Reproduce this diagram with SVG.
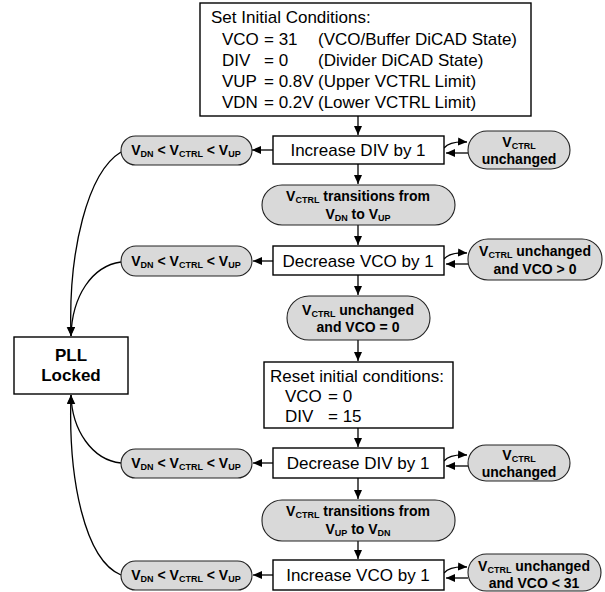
<svg xmlns="http://www.w3.org/2000/svg" width="605" height="592" viewBox="0 0 605 592">
  <defs>
    <marker id="arrow" markerWidth="10" markerHeight="9" refX="9" refY="4" orient="auto" markerUnits="userSpaceOnUse">
      <path d="M0,0 L9,4 L0,8 z" fill="#000"/>
    </marker>
    <style>
      .box { fill: #fff; stroke: #000; stroke-width: 1.4; }
      .term { fill: #d9d9d9; stroke: #222; stroke-width: 1.1; }
      .t { font-family: "Liberation Sans", Arial, sans-serif; font-size: 17px; fill: #000; }
      .b { font-family: "Liberation Sans", Arial, sans-serif; font-size: 14px; font-weight: bold; fill: #000; text-anchor: middle; }
      .s { font-size: 9px; }
      .c { text-anchor: middle; }
      .conn path { fill: none; stroke: #000; stroke-width: 1.3; }
      .conn .arr { marker-end: url(#arrow); }
    </style>
  </defs>
  <rect width="605" height="592" fill="#fff"/>

  <!-- connectors -->
  <g id="connectors" class="conn">
    <!-- main column -->
    <path class="arr" d="M358,116 V135"/>
    <path class="arr" d="M358,164 V184"/>
    <path class="arr" d="M358,225 V245"/>
    <path class="arr" d="M358,275 V295"/>
    <path class="arr" d="M358,340 V361"/>
    <path class="arr" d="M358,428 V447"/>
    <path class="arr" d="M358,478 V499"/>
    <path class="arr" d="M358,541 V559"/>
    <!-- exits to the lock condition -->
    <path class="arr" d="M273,150 H252"/>
    <path class="arr" d="M273,261 H253"/>
    <path class="arr" d="M273,463 H253"/>
    <path class="arr" d="M273,575 H253"/>
    <!-- self loops -->
    <path class="arr" d="M444,148 Q450,141 467,142"/>
    <path class="arr" d="M468,153 L446,153"/>
    <path class="arr" d="M444,259 Q450,252 467,253"/>
    <path class="arr" d="M468,264 L446,264"/>
    <path class="arr" d="M444,461 Q450,454 467,455"/>
    <path class="arr" d="M468,466 L446,466"/>
    <path class="arr" d="M444,573 Q450,566 467,567"/>
    <path class="arr" d="M468,578 L446,578"/>
    <!-- into PLL Locked -->
    <path class="arr" d="M121,152 C88,172 68,250 71,336"/>
    <path class="arr" d="M121,262 C92,266 72,296 71,336"/>
    <path class="arr" d="M121,463 C92,460 72,430 71,395"/>
    <path class="arr" d="M121,575 C85,560 68,480 71,395"/>
  </g>

  <!-- initial conditions -->
  <g id="init">
    <rect class="box" x="200" y="3" width="331" height="113"/>
    <text class="t" x="211" y="23">Set Initial Conditions:</text>
    <text class="t" x="222" y="45">VCO</text><text class="t" x="264" y="45">= 31</text><text class="t" x="318" y="45">(VCO/Buffer DiCAD State)</text>
    <text class="t" x="222" y="66">DIV</text><text class="t" x="264" y="66">= 0</text><text class="t" x="318" y="66">(Divider DiCAD State)</text>
    <text class="t" x="222" y="87">VUP</text><text class="t" x="264" y="87">= 0.8V</text><text class="t" x="318" y="87">(Upper VCTRL Limit)</text>
    <text class="t" x="222" y="108">VDN</text><text class="t" x="264" y="108">= 0.2V</text><text class="t" x="318" y="108">(Lower VCTRL Limit)</text>
  </g>

  <!-- step 1 -->
  <g id="incDiv">
    <rect class="box" x="273" y="136" width="171" height="28"/>
    <text class="t c" x="358" y="156">Increase DIV by 1</text>
  </g>
  <g id="lock1">
    <rect class="term" x="121" y="136" width="131" height="29" rx="14.5"/>
    <text class="b" x="186" y="155">V<tspan class="s" dy="2">DN</tspan><tspan dy="-2"> &lt; V</tspan><tspan class="s" dy="2">CTRL</tspan><tspan dy="-2"> &lt; V</tspan><tspan class="s" dy="2">UP</tspan></text>
  </g>
  <g id="loop1">
    <rect class="term" x="468" y="131" width="102" height="38" rx="19"/>
    <text class="b" x="519" y="147">V<tspan class="s" dy="2">CTRL</tspan></text>
    <text class="b" x="519" y="164">unchanged</text>
  </g>
  <g id="rise">
    <rect class="term" x="262" y="185" width="193" height="40" rx="20"/>
    <text class="b" x="358" y="201">V<tspan class="s" dy="2">CTRL</tspan><tspan dy="-2"> transitions from</tspan></text>
    <text class="b" x="358" y="219">V<tspan class="s" dy="2">DN</tspan><tspan dy="-2"> to V</tspan><tspan class="s" dy="2">UP</tspan></text>
  </g>

  <!-- step 2 -->
  <g id="decVco">
    <rect class="box" x="273" y="246" width="171" height="29"/>
    <text class="t c" x="358" y="267">Decrease VCO by 1</text>
  </g>
  <g id="lock2">
    <rect class="term" x="121" y="246" width="131" height="30" rx="15"/>
    <text class="b" x="186" y="266">V<tspan class="s" dy="2">DN</tspan><tspan dy="-2"> &lt; V</tspan><tspan class="s" dy="2">CTRL</tspan><tspan dy="-2"> &lt; V</tspan><tspan class="s" dy="2">UP</tspan></text>
  </g>
  <g id="loop2">
    <rect class="term" x="468" y="239" width="134" height="41" rx="20"/>
    <text class="b" x="535" y="256">V<tspan class="s" dy="2">CTRL</tspan><tspan dy="-2"> unchanged</tspan></text>
    <text class="b" x="535" y="274">and VCO &gt; 0</text>
  </g>
  <g id="vcoZero">
    <rect class="term" x="287" y="296" width="143" height="44" rx="22"/>
    <text class="b" x="358" y="315">V<tspan class="s" dy="2">CTRL</tspan><tspan dy="-2"> unchanged</tspan></text>
    <text class="b" x="358" y="332">and VCO = 0</text>
  </g>

  <!-- reset -->
  <g id="reset">
    <rect class="box" x="264" y="362" width="189" height="66"/>
    <text class="t" x="270" y="382">Reset initial conditions:</text>
    <text class="t" x="285" y="402">VCO</text><text class="t" x="328" y="402">= 0</text>
    <text class="t" x="285" y="422">DIV</text><text class="t" x="328" y="422">= 15</text>
  </g>

  <g id="pll">
    <rect class="box" x="14" y="337" width="114" height="57"/>
    <text class="b" x="71" y="361" style="font-size:17px">PLL</text>
    <text class="b" x="71" y="381" style="font-size:17px">Locked</text>
  </g>

  <!-- step 3 -->
  <g id="decDiv">
    <rect class="box" x="273" y="448" width="171" height="30"/>
    <text class="t c" x="358" y="469">Decrease DIV by 1</text>
  </g>
  <g id="lock3">
    <rect class="term" x="121" y="449" width="131" height="29" rx="14.5"/>
    <text class="b" x="186" y="468">V<tspan class="s" dy="2">DN</tspan><tspan dy="-2"> &lt; V</tspan><tspan class="s" dy="2">CTRL</tspan><tspan dy="-2"> &lt; V</tspan><tspan class="s" dy="2">UP</tspan></text>
  </g>
  <g id="loop3">
    <rect class="term" x="468" y="445" width="102" height="36" rx="18"/>
    <text class="b" x="519" y="460">V<tspan class="s" dy="2">CTRL</tspan></text>
    <text class="b" x="519" y="477">unchanged</text>
  </g>
  <g id="fall">
    <rect class="term" x="262" y="500" width="193" height="41" rx="20"/>
    <text class="b" x="358" y="516">V<tspan class="s" dy="2">CTRL</tspan><tspan dy="-2"> transitions from</tspan></text>
    <text class="b" x="358" y="534">V<tspan class="s" dy="2">UP</tspan><tspan dy="-2"> to V</tspan><tspan class="s" dy="2">DN</tspan></text>
  </g>

  <!-- step 4 -->
  <g id="incVco">
    <rect class="box" x="273" y="560" width="171" height="30"/>
    <text class="t c" x="358" y="581">Increase VCO by 1</text>
  </g>
  <g id="lock4">
    <rect class="term" x="121" y="561" width="131" height="29" rx="14.5"/>
    <text class="b" x="186" y="580">V<tspan class="s" dy="2">DN</tspan><tspan dy="-2"> &lt; V</tspan><tspan class="s" dy="2">CTRL</tspan><tspan dy="-2"> &lt; V</tspan><tspan class="s" dy="2">UP</tspan></text>
  </g>
  <g id="loop4">
    <rect class="term" x="468" y="554" width="133" height="37" rx="18.5"/>
    <text class="b" x="534" y="571">V<tspan class="s" dy="2">CTRL</tspan><tspan dy="-2"> unchanged</tspan></text>
    <text class="b" x="534" y="588">and VCO &lt; 31</text>
  </g>
</svg>
